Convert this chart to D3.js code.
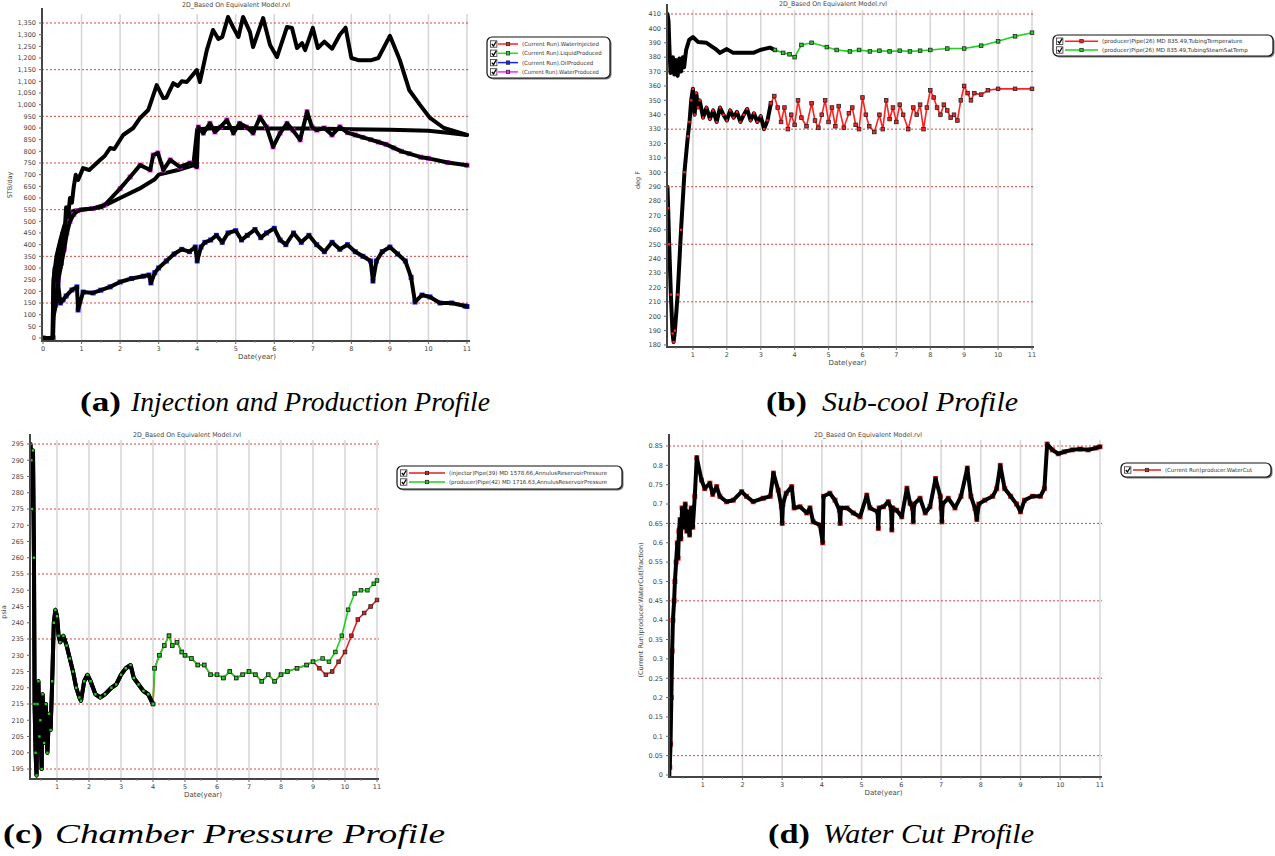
<!DOCTYPE html>
<html><head><meta charset="utf-8">
<script src="https://cdn.jsdelivr.net/npm/d3@7"></script>
<style>body{margin:0;background:#fff}</style>
</head><body>
<svg id="c" width="1275" height="856" xmlns="http://www.w3.org/2000/svg"></svg>
<script>
// ---------------- DATA ----------------
const chartTitle = "2D_Based On Equivalent Model.rvl";
const xLabel = "Date(year)";
const yearTicks = [0,1,2,3,4,5,6,7,8,9,10,11];

// (a) Injection and Production Profile, STB/day
const aYTicks = d3.range(0, 1351, 50);
const aRedGrid = [150, 350, 550, 750, 950, 1150, 1350];
const aLegend = ["(Current Run).WaterInjected","(Current Run).LiquidProduced","(Current Run).OilProduced","(Current Run).WaterProduced"];
const aColors = ["#ff2020","#20e020","#2020ff","#ff20ff"];
const waterInjected = [[0,0],[0.25,0],[0.27,250],[0.35,350],[0.45,420],[0.55,480],[0.7,530],[0.8,545],[1.0,550],[1.5,560],[2.0,600],[2.5,640],[2.9,680],[3.0,700],[3.5,720],[3.9,740],[4.0,895],[4.5,900],[5,900],[6,898],[7,898],[8,895],[9,893],[10,888],[10.5,880],[11,870]];
const liquidProduced = [[0,0],[0.25,0],[0.27,200],[0.3,300],[0.35,250],[0.4,380],[0.45,300],[0.5,450],[0.55,420],[0.6,560],[0.65,520],[0.7,600],[0.75,580],[0.8,650],[0.85,700],[0.91,677],[1.04,728],[1.2,720],[1.48,763],[1.6,780],[1.74,814],[1.85,810],[2.08,870],[2.34,900],[2.52,943],[2.73,977],[2.95,1084],[3.12,1028],[3.2,1030],[3.38,1092],[3.5,1080],[3.6,1100],[3.73,1097],[3.99,1148],[4.07,1097],[4.25,1234],[4.41,1320],[4.55,1281],[4.65,1290],[4.8,1376],[4.94,1329],[5.07,1290],[5.19,1376],[5.37,1311],[5.45,1247],[5.71,1371],[5.89,1256],[6.07,1204],[6.33,1333],[6.46,1329],[6.59,1243],[6.72,1264],[6.8,1234],[7.0,1329],[7.13,1243],[7.3,1270],[7.5,1240],[7.7,1300],[7.85,1330],[8.0,1200],[8.2,1190],[8.5,1190],[8.7,1200],[9.0,1295],[9.26,1190],[9.5,1063],[9.78,999],[10.04,943],[10.4,900],[10.7,885],[11,870]];
const oilProduced = [[0,0],[0.26,0],[0.27,107],[0.33,160],[0.39,235],[0.45,150],[0.52,163],[0.6,180],[0.75,206],[0.88,219],[0.91,120],[1.04,197],[1.3,193],[1.5,205],[1.74,219],[2.0,240],[2.3,255],[2.6,265],[2.75,270],[2.8,236],[2.9,280],[3.0,300],[3.2,330],[3.4,360],[3.6,380],[3.8,370],[3.95,390],[4.0,330],[4.1,390],[4.2,410],[4.35,420],[4.5,440],[4.65,410],[4.8,450],[5.0,460],[5.15,420],[5.3,440],[5.5,465],[5.65,430],[5.8,450],[6.0,470],[6.15,420],[6.3,400],[6.5,450],[6.7,410],[6.9,440],[7.1,400],[7.3,370],[7.5,410],[7.7,380],[7.9,400],[8.1,370],[8.3,350],[8.5,330],[8.56,244],[8.65,330],[8.8,370],[9.0,390],[9.2,360],[9.4,330],[9.55,260],[9.65,154],[9.83,184],[10.04,176],[10.3,150],[10.6,150],[10.95,137],[11,135]];
const waterProduced = [[0,0],[0.26,0],[0.27,90],[0.33,140],[0.4,250],[0.48,320],[0.55,380],[0.62,450],[0.7,500],[0.8,530],[0.9,545],[1.0,550],[1.3,555],[1.6,570],[2.0,640],[2.26,690],[2.52,741],[2.78,720],[2.86,784],[2.98,793],[3.12,720],[3.3,763],[3.55,733],[3.81,750],[3.99,733],[4.03,904],[4.16,878],[4.33,920],[4.46,883],[4.6,904],[4.77,934],[4.94,878],[5.1,920],[5.28,904],[5.45,878],[5.63,947],[5.8,904],[5.97,819],[6.15,878],[6.33,920],[6.48,891],[6.67,849],[6.85,970],[6.98,904],[7.1,891],[7.3,900],[7.5,870],[7.7,905],[7.9,880],[8.1,870],[8.3,860],[8.5,850],[8.7,840],[8.9,830],[9.1,815],[9.3,800],[9.5,790],[9.8,775],[10.0,770],[10.5,752],[11,740]];

// (b) Sub-cool Profile, deg F
const bYTicks = d3.range(180, 411, 10);
const bRedGrid = [210, 250, 290, 330, 370, 410];
const bLegend = ["(producer)Pipe(26) MD 835.49,TubingTemperature","(producer)Pipe(26) MD 835.49,TubingSteamSatTemp"];
const bColors = ["#ff2020","#20d020"];
const tubingTemp = [[0.25,290],[0.27,275],[0.3,250],[0.35,215],[0.4,188],[0.43,182],[0.47,190],[0.55,215],[0.65,260],[0.75,300],[0.85,325],[0.9,335],[0.95,350],[1.0,358],[1.05,340],[1.1,355],[1.15,345],[1.2,350],[1.3,338],[1.4,345],[1.5,337],[1.6,343],[1.7,335],[1.8,345],[1.9,340],[2.0,336],[2.1,343],[2.2,338],[2.3,342],[2.4,335],[2.5,340],[2.6,344],[2.7,336],[2.8,341],[2.9,335],[3.0,339],[3.1,330],[3.2,336],[3.3,348],[3.4,353],[3.5,345],[3.6,335],[3.7,345],[3.8,330],[3.9,340],[4.0,333],[4.1,350],[4.2,338],[4.35,332],[4.5,348],[4.6,336],[4.7,331],[4.8,340],[4.9,350],[5.0,335],[5.1,345],[5.2,332],[5.3,346],[5.45,331],[5.6,341],[5.7,345],[5.8,333],[5.9,330],[6.0,352],[6.1,340],[6.2,332],[6.35,328],[6.5,340],[6.6,330],[6.7,350],[6.8,337],[6.9,345],[7.0,335],[7.1,347],[7.2,340],[7.35,330],[7.5,345],[7.6,340],[7.7,347],[7.8,330],[7.9,345],[8.0,357],[8.1,352],[8.2,345],[8.3,340],[8.4,347],[8.5,343],[8.6,338],[8.7,340],[8.8,336],[8.9,350],[9.0,360],[9.1,355],[9.2,350],[9.3,355],[9.5,354],[9.7,357],[10,358],[10.5,358],[11,358]];
const steamSatTemp = [[0.25,410],[0.28,405],[0.31,385],[0.34,369],[0.37,372],[0.41,380],[0.45,368],[0.5,378],[0.55,367],[0.6,379],[0.65,370],[0.7,380],[0.74,373],[0.8,385],[0.89,392],[1.0,394],[1.15,390.6],[1.4,390],[1.65,386],[1.8,383],[2.0,385.6],[2.19,383],[2.49,383],[2.78,383],[2.98,385],[3.27,386.6],[3.42,385],[3.66,383],[3.85,382],[4.0,380],[4.2,388.5],[4.5,390],[4.95,387],[5.24,385],[5.63,384],[5.9,385],[6.22,384],[6.5,384.5],[6.8,384],[7.1,384.5],[7.4,384],[7.7,384.5],[8.0,385],[8.5,386],[9.0,386],[9.5,388],[10.0,391],[10.5,394.5],[11,397]];

// (c) Chamber Pressure Profile, psia
const cYTicks = d3.range(195, 296, 5);
const cRedGrid = [195, 215, 235, 255, 275, 295];
const cLegend = ["(injector)Pipe(39) MD 1578.66,AnnulusReservoirPressure","(producer)Pipe(42) MD 1716.63,AnnulusReservoirPressure"];
const cColors = ["#e02020","#20d020"];
const producerPressure = [[0.17,295],[0.2,290],[0.22,275],[0.25,293],[0.28,260],[0.3,215],[0.33,200],[0.36,193],[0.39,215],[0.42,222],[0.45,205],[0.48,210],[0.52,195],[0.55,218],[0.6,203],[0.65,215],[0.7,200],[0.75,212],[0.8,207],[0.85,222],[0.9,240],[0.95,244],[1.0,242],[1.05,236],[1.1,234],[1.2,236],[1.3,233],[1.4,229],[1.5,225],[1.6,220],[1.7,217],[1.75,216],[1.85,222],[1.95,224],[2.05,222],[2.2,218],[2.35,217],[2.5,218],[2.7,220],[2.85,221],[3.0,224],[3.15,226],[3.3,227],[3.4,223],[3.55,221],[3.7,219],[3.85,218],[4.0,215],[4.05,226],[4.2,230],[4.35,233],[4.5,236],[4.6,233],[4.75,234],[4.9,231],[5.0,230],[5.2,229],[5.4,227],[5.6,227],[5.8,224],[6.0,224],[6.2,223],[6.4,225],[6.6,223],[6.8,224],[7.0,225],[7.2,224],[7.4,222],[7.6,224],[7.8,222],[8.0,224],[8.2,225],[8.5,226],[8.8,227],[9.0,228],[9.3,229],[9.5,228],[9.7,231],[9.9,236],[10.1,244],[10.3,249],[10.5,250],[10.7,250],[10.9,252],[11,253]];
const injectorPressure = [[0.17,295],[0.2,290],[0.22,275],[0.25,293],[0.28,260],[0.3,215],[0.33,200],[0.36,193],[0.39,215],[0.42,222],[0.45,205],[0.48,210],[0.52,195],[0.55,218],[0.6,203],[0.65,215],[0.7,200],[0.75,212],[0.8,207],[0.85,222],[0.9,240],[0.95,244],[1.0,242],[1.05,236],[1.1,234],[1.2,236],[1.3,233],[1.4,229],[1.5,225],[1.6,220],[1.7,217],[1.75,216],[1.85,222],[1.95,224],[2.05,222],[2.2,218],[2.35,217],[2.5,218],[2.7,220],[2.85,221],[3.0,224],[3.15,226],[3.3,227],[3.4,223],[3.55,221],[3.7,219],[3.85,218],[4.0,215],[4.05,226],[4.2,230],[4.35,233],[4.5,236],[4.6,233],[4.75,234],[4.9,231],[5.0,230],[5.2,229],[5.4,227],[5.6,227],[5.8,224],[6.0,224],[6.2,223],[6.4,225],[6.6,223],[6.8,224],[7.0,225],[7.2,224],[7.4,222],[7.6,224],[7.8,222],[8.0,224],[8.2,225],[8.5,226],[8.8,227],[9.0,228],[9.2,226],[9.4,224],[9.6,225],[9.8,228],[10.0,231],[10.2,236],[10.4,241],[10.6,243],[10.8,245],[11,247]];

// (d) Water Cut Profile, fraction
const dYTicks = d3.range(0, 0.851, 0.05);
const dRedGrid = [0.05, 0.25, 0.45, 0.65, 0.85];
const dLegend = ["(Current Run)producer.WaterCut"];
const dColors = ["#e02020"];
const waterCut = [[0.15,0],[0.17,0.02],[0.19,0.08],[0.21,0.2],[0.23,0.32],[0.25,0.4],[0.28,0.45],[0.3,0.5],[0.33,0.55],[0.36,0.6],[0.38,0.56],[0.4,0.63],[0.43,0.66],[0.45,0.61],[0.48,0.69],[0.52,0.64],[0.56,0.7],[0.6,0.63],[0.63,0.68],[0.67,0.62],[0.71,0.69],[0.75,0.64],[0.8,0.72],[0.85,0.82],[0.97,0.762],[1.05,0.74],[1.18,0.754],[1.25,0.725],[1.35,0.745],[1.43,0.72],[1.6,0.706],[1.77,0.71],[1.98,0.732],[2.1,0.72],[2.27,0.706],[2.52,0.715],[2.7,0.72],[2.78,0.78],[2.9,0.736],[2.98,0.693],[3.0,0.65],[3.02,0.7],[3.1,0.728],[3.24,0.745],[3.3,0.69],[3.45,0.693],[3.62,0.677],[3.7,0.69],[3.78,0.654],[3.95,0.646],[4.02,0.6],[4.04,0.72],[4.2,0.728],[4.33,0.71],[4.44,0.684],[4.46,0.65],[4.48,0.69],[4.63,0.69],[4.79,0.677],[4.96,0.667],[5.13,0.723],[5.21,0.69],[5.4,0.68],[5.42,0.637],[5.44,0.69],[5.55,0.693],[5.67,0.706],[5.74,0.69],[5.76,0.633],[5.78,0.69],[5.88,0.684],[6.01,0.667],[6.14,0.741],[6.22,0.702],[6.28,0.69],[6.3,0.654],[6.32,0.7],[6.47,0.715],[6.6,0.677],[6.72,0.693],[6.86,0.766],[6.98,0.72],[7.0,0.69],[7.02,0.654],[7.04,0.7],[7.18,0.715],[7.35,0.69],[7.5,0.72],[7.66,0.793],[7.75,0.72],[7.85,0.69],[7.9,0.66],[7.95,0.7],[8.1,0.71],[8.3,0.72],[8.4,0.74],[8.49,0.80],[8.6,0.74],[8.75,0.72],[8.9,0.7],[9.0,0.68],[9.1,0.71],[9.3,0.72],[9.5,0.72],[9.6,0.74],[9.67,0.855],[9.8,0.84],[9.95,0.83],[10.1,0.835],[10.3,0.84],[10.5,0.842],[10.7,0.84],[10.9,0.845],[11,0.848]];

const captions = [
  {tag:"(a)", text:"Injection and Production Profile"},
  {tag:"(b)", text:"Sub-cool Profile"},
  {tag:"(c)", text:"Chamber Pressure Profile"},
  {tag:"(d)", text:"Water Cut Profile"}
];

// ---------------- DRAWING ----------------
const svg = d3.select("#c");
const FONT = "'DejaVu Sans', Verdana, sans-serif";
const fmtComma = d3.format(",");

function fitText(sel, w) {
  const node = sel.node();
  const len = node.getComputedTextLength();
  if (len > w) sel.attr("textLength", w).attr("lengthAdjust", "spacingAndGlyphs");
}

function panel(cfg) {
  const g = svg.append("g");
  const x = d3.scaleLinear().domain([0, 11]).range(cfg.xr);
  const y = d3.scaleLinear().domain(cfg.yd).range(cfg.yr);
  const left = cfg.axisX, bottom = cfg.axisY, right = cfg.right, top = cfg.top;

  g.selectAll(".vg").data(yearTicks.filter(t => x(t) > left + 2)).enter().append("line")
    .attr("x1", d => x(d)).attr("x2", d => x(d)).attr("y1", top).attr("y2", bottom)
    .attr("stroke", "#d6d6d6").attr("stroke-width", 1.5);
  g.selectAll(".hg").data(cfg.redGrid).enter().append("line")
    .attr("x1", left).attr("x2", right).attr("y1", d => y(d)).attr("y2", d => y(d))
    .attr("stroke", "#e04040").attr("stroke-width", 1).attr("stroke-dasharray", "2,2");

  const clipId = "clip" + cfg.id;
  svg.append("clipPath").attr("id", clipId).append("rect")
    .attr("x", left).attr("y", top - 6).attr("width", right - left + 4).attr("height", bottom - top + 6);
  const sg = g.append("g").attr("clip-path", `url(#${clipId})`);
  const line = d3.line().x(d => x(d[0])).y(d => y(d[1]));
  cfg.series.forEach(s => {
    const blk = s.data.filter(d => d[0] <= s.blackUntil);
    const col = s.data.filter(d => d[0] >= s.blackUntil);
    if (col.length > 1) {
      sg.append("path").attr("d", line(col)).attr("fill", "none").attr("stroke", s.color).attr("stroke-width", 1.6);
    }
    if (s.under) {
      sg.selectAll(null).data(s.data).enter().append("rect")
        .attr("x", d => x(d[0]) - 2.5).attr("y", d => y(d[1]) - 2.5).attr("width", 5).attr("height", 5)
        .attr("fill", s.color);
    }
    if (blk.length > 1) {
      sg.append("path").attr("d", line(blk)).attr("fill", "none").attr("stroke", "#000")
        .attr("stroke-width", 4).attr("stroke-linejoin", "round").attr("stroke-linecap", "round");
    }
    if (s.blkMarkers) {
      sg.selectAll(null).data(blk).enter().append("rect")
        .attr("x", d => x(d[0]) - 1.2).attr("y", d => y(d[1]) - 1.2).attr("width", 2.4).attr("height", 2.4)
        .attr("fill", s.color);
    }
    if (col.length > 1 && s.markers) {
      sg.selectAll(null).data(col).enter().append("rect")
        .attr("x", d => x(d[0]) - 1.8).attr("y", d => y(d[1]) - 1.8).attr("width", 3.6).attr("height", 3.6)
        .attr("fill", s.color).attr("stroke", "#222").attr("stroke-width", 0.8);
    }
  });

  g.append("line").attr("x1", left).attr("x2", left).attr("y1", top - 6).attr("y2", bottom + 1)
    .attr("stroke", "#444").attr("stroke-width", 2);
  g.append("line").attr("x1", left - 1).attr("x2", right).attr("y1", bottom).attr("y2", bottom)
    .attr("stroke", "#444").attr("stroke-width", 2);

  g.selectAll(".yt").data(cfg.yTicks).enter().append("text")
    .attr("x", left - 6).attr("y", d => y(d) + 2.3).attr("text-anchor", "end")
    .attr("font-family", FONT).attr("font-size", 6.5).attr("fill", "#444")
    .text(cfg.yFmt);
  g.selectAll(".ytm").data(cfg.yTicks).enter().append("line")
    .attr("x1", left - 3).attr("x2", left).attr("y1", d => y(d)).attr("y2", d => y(d))
    .attr("stroke", "#666").attr("stroke-width", 1);
  const xt = yearTicks.filter(t => x(t) >= left - 1);
  g.selectAll(".xt").data(xt).enter().append("text")
    .attr("x", d => x(d)).attr("y", bottom + 10).attr("text-anchor", "middle")
    .attr("font-family", FONT).attr("font-size", 6.5).attr("fill", "#444").text(d => d);
  g.selectAll(".xtm").data(xt).enter().append("line")
    .attr("x1", d => x(d)).attr("x2", d => x(d)).attr("y1", bottom).attr("y2", bottom + 3)
    .attr("stroke", "#666").attr("stroke-width", 1);
  const minor = d3.range(0.5, 11, 1).filter(t => x(t) > left);
  g.selectAll(".xtn").data(minor).enter().append("line")
    .attr("x1", d => x(d)).attr("x2", d => x(d)).attr("y1", bottom).attr("y2", bottom + 2)
    .attr("stroke", "#888").attr("stroke-width", 0.8);

  g.append("text").attr("x", (cfg.xr[0] + cfg.xr[1]) / 2 + 2).attr("y", bottom + 18).attr("text-anchor", "middle")
    .attr("font-family", FONT).attr("font-size", 7).attr("fill", "#444").text(xLabel);
  g.append("text").attr("transform", `translate(${cfg.yLabelX},${cfg.yLabelY}) rotate(-90)`)
    .attr("text-anchor", "middle").attr("font-family", FONT).attr("font-size", 6.5).attr("fill", "#444").text(cfg.yLabel);
  const tt = g.append("text").attr("x", cfg.titleX).attr("y", cfg.titleY).attr("text-anchor", "middle")
    .attr("font-family", FONT).attr("font-size", 6.5).attr("fill", "#444").text(chartTitle);
  fitText(tt, 108);

  const L = cfg.legend;
  const lg = svg.append("g").attr("transform", `translate(${L.x},${L.y})`);
  lg.append("rect").attr("x", 1.5).attr("y", 1.5).attr("width", L.w).attr("height", L.h).attr("rx", 5)
    .attr("fill", "#777");
  lg.append("rect").attr("x", 0).attr("y", 0).attr("width", L.w).attr("height", L.h).attr("rx", 5)
    .attr("fill", "#fff").attr("stroke", "#111").attr("stroke-width", 1.2);
  L.names.forEach((n, i) => {
    const yy = L.first + i * L.step;
    lg.append("rect").attr("x", 3.5).attr("y", yy - 3.2).attr("width", 6.4).attr("height", 6.4)
      .attr("fill", "#fff").attr("stroke", "#333").attr("stroke-width", 0.8);
    lg.append("path").attr("d", `M4.8,${yy} L6.5,${yy + 2} L9.2,${yy - 2.5}`).attr("fill", "none")
      .attr("stroke", "#000").attr("stroke-width", 1.3);
    lg.append("line").attr("x1", L.lineX).attr("x2", L.lineX + L.lineW).attr("y1", yy).attr("y2", yy)
      .attr("stroke", L.colors[i]).attr("stroke-width", 1.5);
    lg.append("rect").attr("x", L.lineX + L.lineW / 2 - 1.7).attr("y", yy - 1.7).attr("width", 3.4).attr("height", 3.4)
      .attr("fill", L.colors[i]).attr("stroke", "#222").attr("stroke-width", 0.7);
    const t = lg.append("text").attr("x", L.lineX + L.lineW + 4).attr("y", yy + 2).attr("font-family", FONT)
      .attr("font-size", 5.6).attr("fill", "#333").text(n);
    fitText(t, n.length * L.charW);
  });
}

panel({
  id: "a", xr: [43, 467], yd: [0, 1350], yr: [338, 23], axisX: 42, axisY: 341, right: 470, top: 14,
  yTicks: aYTicks, yFmt: d => fmtComma(d), redGrid: aRedGrid,
  yLabel: "STB/day", yLabelX: 12, yLabelY: 185, titleX: 236, titleY: 7,
  series: [
    {data: waterInjected, color: aColors[0], blackUntil: 99},
    {data: oilProduced, color: aColors[2], blackUntil: 99, under: true},
    {data: waterProduced, color: aColors[3], blackUntil: 99, under: true},
    {data: liquidProduced, color: aColors[1], blackUntil: 99}
  ],
  legend: {x: 487, y: 37, w: 123, h: 41, first: 7, step: 9.3, lineX: 11, lineW: 20, charW: 2.85, names: aLegend, colors: aColors}
});

panel({
  id: "b", xr: [659, 1032], yd: [180, 410], yr: [345, 14], axisX: 667, axisY: 347, right: 1034, top: 10,
  yTicks: bYTicks, yFmt: d => d, redGrid: bRedGrid,
  yLabel: "deg F", yLabelX: 640, yLabelY: 180, titleX: 833, titleY: 6,
  series: [
    {data: steamSatTemp, color: bColors[1], blackUntil: 3.42, markers: true},
    {data: tubingTemp, color: bColors[0], blackUntil: 3.3, markers: true, blkMarkers: true}
  ],
  legend: {x: 1053, y: 35, w: 220, h: 21, first: 6.2, step: 8.8, lineX: 12, lineW: 33, charW: 3.1, names: bLegend, colors: bColors}
});

panel({
  id: "c", xr: [25, 377], yd: [195, 295], yr: [769, 444], axisX: 30, axisY: 779, right: 379, top: 440,
  yTicks: cYTicks, yFmt: d => d, redGrid: cRedGrid,
  yLabel: "psia", yLabelX: 6, yLabelY: 612, titleX: 187, titleY: 437,
  series: [
    {data: injectorPressure, color: cColors[0], blackUntil: 4.0, markers: true},
    {data: producerPressure, color: cColors[1], blackUntil: 4.0, markers: true, blkMarkers: true}
  ],
  legend: {x: 397, y: 466, w: 225, h: 23, first: 7, step: 9, lineX: 12, lineW: 36, charW: 2.93, names: cLegend, colors: cColors}
});

panel({
  id: "d", xr: [663, 1100], yd: [0, 0.85], yr: [775, 446], axisX: 669, axisY: 777, right: 1102, top: 440,
  yTicks: dYTicks, yFmt: d => d3.format("~g")(+d.toFixed(2)), redGrid: dRedGrid,
  yLabel: "(Current Run)producer.WaterCut(fraction)", yLabelX: 643, yLabelY: 610, titleX: 868, titleY: 437,
  series: [
    {data: waterCut, color: dColors[0], blackUntil: 99, under: true}
  ],
  legend: {x: 1121, y: 463, w: 150, h: 14, first: 7, step: 9, lineX: 12, lineW: 28, charW: 2.9, names: dLegend, colors: dColors}
});

// captions
const capSpec = [
  {tagX: 80, tagW: 41, bodyX: 131, bodyW: 359, y: 411},
  {tagX: 766, tagW: 41, bodyX: 822, bodyW: 196, y: 411},
  {tagX: 3, tagW: 40, bodyX: 55, bodyW: 390, y: 843},
  {tagX: 768, tagW: 42, bodyX: 823, bodyW: 211, y: 843}
];
captions.forEach((c, i) => {
  const p = capSpec[i];
  svg.append("text").attr("x", p.tagX).attr("y", p.y)
    .attr("font-family", "'Liberation Serif', 'DejaVu Serif', serif").attr("font-size", 28).attr("font-weight", "bold")
    .attr("textLength", p.tagW).attr("lengthAdjust", "spacingAndGlyphs").text(c.tag);
  svg.append("text").attr("x", p.bodyX).attr("y", p.y)
    .attr("font-family", "'Liberation Serif', 'DejaVu Serif', serif").attr("font-size", 28).attr("font-style", "italic")
    .attr("textLength", p.bodyW).attr("lengthAdjust", "spacingAndGlyphs").text(c.text);
});
</script>
</body></html>
